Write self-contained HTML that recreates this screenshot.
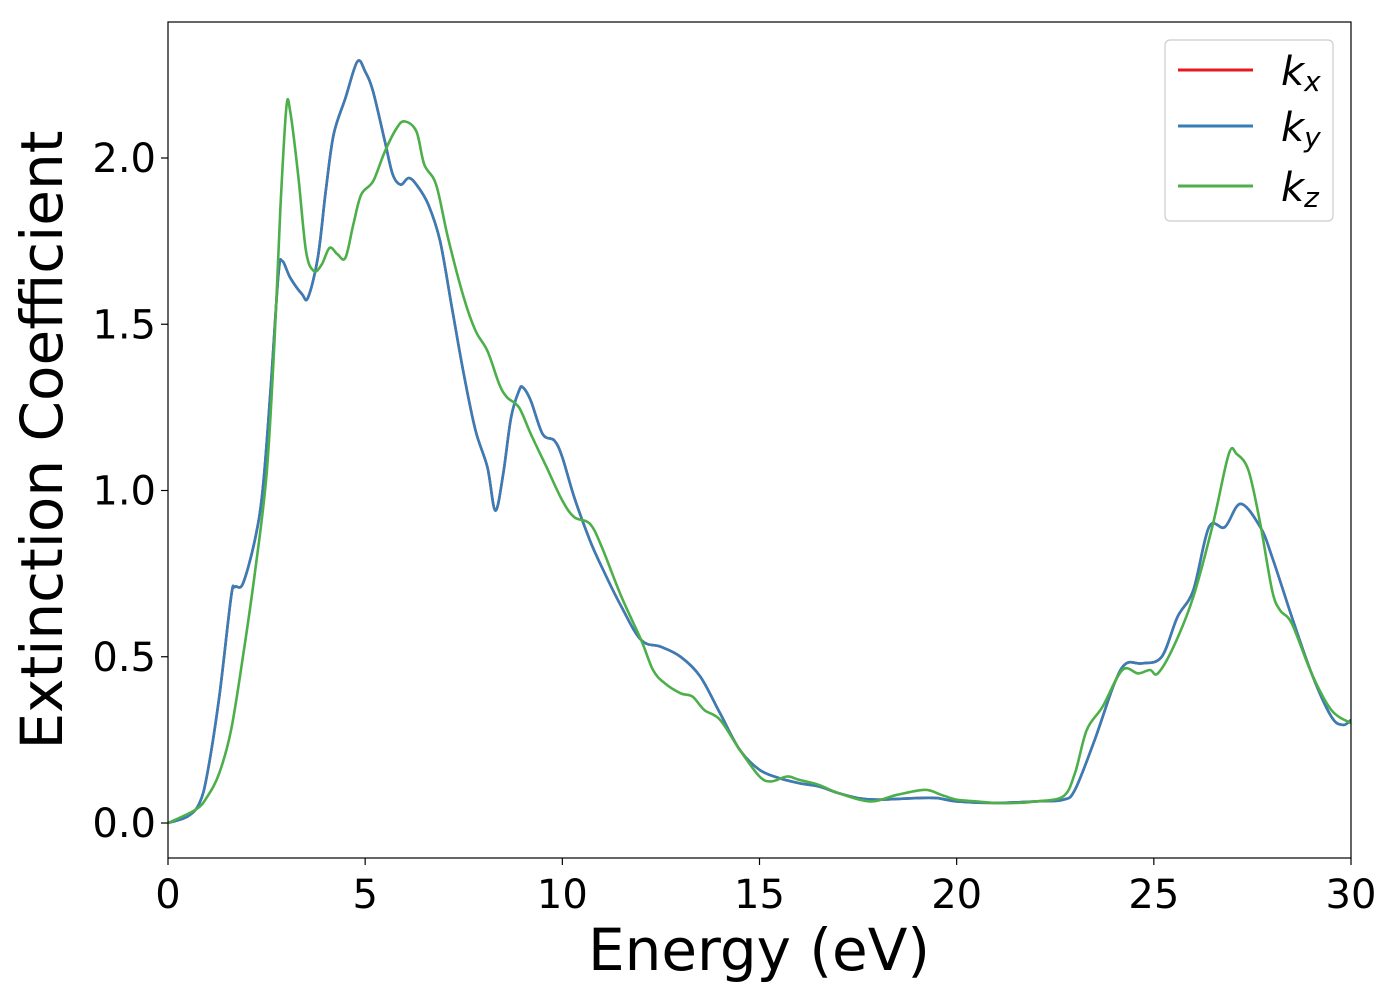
<!DOCTYPE html>
<html><head><meta charset="utf-8"><style>
html,body{margin:0;padding:0;background:#fff;}
svg{display:block;font-family:"DejaVu Sans","Liberation Sans",sans-serif;}
</style></head><body>
<svg id="chart" width="1400" height="1000" viewBox="0 0 1400 1000">
<rect x="0" y="0" width="1400" height="1000" fill="#fff"/>
<g id="plot"></g>
<rect x="168" y="22" width="1183" height="836" fill="none" stroke="#000" stroke-width="1.2"/>
<g id="ticks"></g>
<text x="759" y="970" font-size="58" text-anchor="middle">Energy (eV)</text>
<text transform="translate(62,440) rotate(-90)" font-size="58" text-anchor="middle">Extinction Coefficient</text>
<g>
<rect x="1165" y="40" width="168" height="181" rx="5" fill="#fff" fill-opacity="0.8" stroke="#ccc" stroke-width="1.2"/>
<g><line x1="1178" y1="70" x2="1253" y2="70" stroke="#e41a1c" stroke-width="3"/><text x="1281" y="85" font-size="40" font-style="italic">k<tspan font-size="28" dy="6">x</tspan></text></g>
<g><line x1="1178" y1="126" x2="1253" y2="126" stroke="#377eb8" stroke-width="3"/><text x="1281" y="141" font-size="40" font-style="italic">k<tspan font-size="28" dy="6">y</tspan></text></g>
<g><line x1="1178" y1="186" x2="1253" y2="186" stroke="#4daf4a" stroke-width="3"/><text x="1281" y="201" font-size="40" font-style="italic">k<tspan font-size="28" dy="6">z</tspan></text></g>
</g>
</svg>
<script>
const kxE=[0,0.5,0.8,1.0,1.3,1.6,1.7,1.9,2.2,2.4,2.6,2.8,2.9,3.1,3.4,3.55,3.8,4.0,4.2,4.5,4.8,5.0,5.2,5.5,5.7,5.9,6.1,6.3,6.6,6.9,7.2,7.5,7.8,8.1,8.3,8.5,8.7,8.9,9.0,9.2,9.5,9.8,10.0,10.3,10.7,11.0,11.5,12.0,12.5,13.0,13.5,14.0,14.5,15.0,15.5,16.0,16.5,17.0,17.5,18.0,19.0,19.5,20.0,21,22,22.7,23.0,23.5,24.0,24.3,24.7,25.2,25.6,26.0,26.4,26.8,27.2,27.7,28.0,28.5,29.0,29.5,29.8,30];
const kxV=[0,0.02,0.06,0.15,0.38,0.68,0.71,0.72,0.85,1.0,1.3,1.65,1.69,1.64,1.59,1.58,1.7,1.9,2.07,2.18,2.29,2.26,2.2,2.05,1.95,1.92,1.94,1.92,1.86,1.75,1.55,1.35,1.18,1.07,0.94,1.05,1.22,1.30,1.31,1.27,1.17,1.15,1.10,0.98,0.85,0.77,0.65,0.55,0.53,0.50,0.44,0.33,0.22,0.16,0.135,0.12,0.11,0.09,0.075,0.07,0.075,0.075,0.065,0.06,0.065,0.07,0.1,0.25,0.42,0.48,0.48,0.5,0.62,0.7,0.89,0.89,0.96,0.89,0.8,0.62,0.45,0.32,0.295,0.31];
const kyV=kxV.slice();
const kzE=[0,0.7,1.0,1.3,1.6,1.9,2.2,2.5,2.7,2.85,3.0,3.1,3.3,3.5,3.7,3.9,4.1,4.3,4.5,4.7,4.9,5.2,5.5,5.8,6.0,6.3,6.5,6.8,7.1,7.5,7.8,8.1,8.4,8.6,8.9,9.2,9.6,10.0,10.3,10.7,11.0,11.5,12.0,12.3,12.6,13.0,13.3,13.6,14.0,14.5,15.0,15.3,15.7,16.0,16.5,17.0,17.8,18.5,19.2,19.6,20.0,20.5,21,21.5,22,22.7,23.0,23.3,23.7,24.2,24.6,24.9,25.1,25.5,26.0,26.5,26.9,27.1,27.4,27.7,28.0,28.2,28.5,29.0,29.5,30];
const kzV=[0,0.04,0.08,0.15,0.28,0.5,0.75,1.05,1.45,1.85,2.15,2.14,1.95,1.72,1.66,1.68,1.73,1.71,1.7,1.8,1.89,1.93,2.02,2.09,2.11,2.08,1.98,1.92,1.76,1.58,1.48,1.42,1.32,1.28,1.25,1.17,1.07,0.97,0.92,0.9,0.83,0.68,0.55,0.46,0.42,0.39,0.38,0.34,0.31,0.22,0.14,0.125,0.14,0.13,0.115,0.09,0.065,0.085,0.1,0.085,0.07,0.065,0.06,0.06,0.065,0.08,0.15,0.28,0.35,0.46,0.45,0.46,0.45,0.53,0.68,0.9,1.11,1.11,1.06,0.9,0.70,0.64,0.6,0.45,0.34,0.30];
const xTicks=[0,5,10,15,20,25,30];
const yTicks=[0.0,0.5,1.0,1.5,2.0];
const NS="http://www.w3.org/2000/svg";
function sx(e){return 168+e*(1351-168)/30;}
function sy(v){return 823-v*(823-158)/2;}
function smoothPath(xs,ys){
  const p=xs.map((x,i)=>[sx(x),sy(ys[i])]);
  let d="M"+p[0][0].toFixed(1)+","+p[0][1].toFixed(1);
  for(let i=0;i<p.length-1;i++){
    const p0=p[Math.max(0,i-1)],p1=p[i],p2=p[i+1],p3=p[Math.min(p.length-1,i+2)];
    const c1=[p1[0]+(p2[0]-p0[0])/6,p1[1]+(p2[1]-p0[1])/6];
    const c2=[p2[0]-(p3[0]-p1[0])/6,p2[1]-(p3[1]-p1[1])/6];
    d+="C"+c1[0].toFixed(1)+","+c1[1].toFixed(1)+" "+c2[0].toFixed(1)+","+c2[1].toFixed(1)+" "+p2[0].toFixed(1)+","+p2[1].toFixed(1);
  }
  return d;
}
const plot=document.getElementById("plot");
const clip=document.createElementNS(NS,"clipPath");clip.setAttribute("id","clp");
const cr=document.createElementNS(NS,"rect");cr.setAttribute("x",168);cr.setAttribute("y",22);cr.setAttribute("width",1183);cr.setAttribute("height",836);
clip.appendChild(cr);plot.appendChild(clip);
plot.setAttribute("clip-path","url(#clp)");
const series=[["series-kx",kxE,kxV,"#e41a1c"],["series-ky",kxE,kyV,"#377eb8"],["series-kz",kzE,kzV,"#4daf4a"]];
series.forEach(s=>{
  const path=document.createElementNS(NS,"path");
  path.setAttribute("d",smoothPath(s[1],s[2]));
  path.setAttribute("fill","none");path.setAttribute("stroke",s[3]);path.setAttribute("stroke-width","2.6");
  
  
  plot.appendChild(path);
});
const tg=document.getElementById("ticks");
xTicks.forEach(t=>{
  const l=document.createElementNS(NS,"line");
  l.setAttribute("x1",sx(t));l.setAttribute("x2",sx(t));l.setAttribute("y1",858);l.setAttribute("y2",865);l.setAttribute("stroke","#000");l.setAttribute("stroke-width","1.2");
  
  
  tg.appendChild(l);
  const tx=document.createElementNS(NS,"text");
  tx.setAttribute("x",sx(t));tx.setAttribute("y",908);tx.setAttribute("font-size","40");tx.setAttribute("text-anchor","middle");
  tx.textContent=String(t);
  
  
  tg.appendChild(tx);
});
yTicks.forEach(t=>{
  const l=document.createElementNS(NS,"line");
  l.setAttribute("x1",161);l.setAttribute("x2",168);l.setAttribute("y1",sy(t));l.setAttribute("y2",sy(t));l.setAttribute("stroke","#000");l.setAttribute("stroke-width","1.2");
  
  
  tg.appendChild(l);
  const tx=document.createElementNS(NS,"text");
  tx.setAttribute("x",156);tx.setAttribute("y",sy(t)+14);tx.setAttribute("font-size","40");tx.setAttribute("text-anchor","end");
  tx.textContent=t.toFixed(1);
  
  
  tg.appendChild(tx);
});
</script>
</body></html>
